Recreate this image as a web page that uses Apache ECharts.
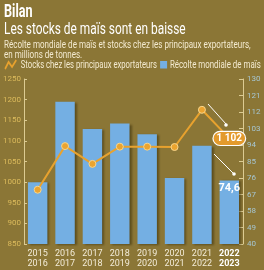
<!DOCTYPE html>
<html lang="fr">
<head>
<meta charset="UTF-8">
<title>Bilan maïs</title>
<style>
  html, body { margin: 0; padding: 0; background: #8b7636; }
</style>
</head>
<body>
<div id="echart" style="width: 264px; height: 270px;"></div>
<script src="https://cdn.jsdelivr.net/npm/echarts@6/dist/echarts.min.js"></script>
<script>
    // campagnes
    var seasons = ['2015\n2016', '2016\n2017', '2017\n2018', '2018\n2019', '2019\n2020', '2020\n2021', '2021\n2022', '2022\n2023'];
    // récolte mondiale (axe gauche)
    var harvest = [1000, 1195, 1129, 1142, 1116, 1010, 1088, 1004];
    // stocks chez les exportateurs (axe droit)
    var stocks = [69.6, 93.4, 83.7, 93.1, 93.1, 92.9, 113.2, 97.6];
    var lastHarvestText = '1 102';
    var lastStocksText = '74,6';
    var leftTicks = {min: 850, max: 1250, step: 50};
    var rightTicks = {min: 40, max: 130, step: 9};

    var font = 'Roboto, "Liberation Sans", sans-serif';
    var bg = '#8b7636';
    var cream = '#f3ead0';
    var orange = '#e8a22e';
    var blue = '#74afe3';

    var myChart = echarts.init(document.getElementById('echart'));

    var barData = harvest.map(function (v, i) {
        if (i === harvest.length - 1) {
            return {
                value: v,
                label: {
                    show: true, position: 'insideTop', distance: 2,
                    formatter: lastStocksText,
                    color: '#fff', fontWeight: 'bold', fontSize: 11, fontFamily: font
                }
            };
        }
        return v;
    });

    var lineData = stocks.map(function (v, i) {
        if (i === stocks.length - 1) {
            return {
                value: v,
                symbolSize: 0,
                label: {
                    show: true, position: 'inside',
                    formatter: lastHarvestText,
                    color: '#fff', fontWeight: 'bold', fontSize: 10, fontFamily: font,
                    backgroundColor: '#e39a2c', borderColor: '#fff', borderWidth: 1.2,
                    borderRadius: 8, padding: [2, 3, 1, 3]
                }
            };
        }
        return v;
    });

    // en-tête (texte condensé par mise à l'échelle horizontale)
    var sx = 0.7;
    var header = {
        type: 'group', x: 4, y: 3, scaleX: sx,
        children: [
            {type: 'text', x: 0, y: 0, style: {text: 'Bilan', fill: '#fff', font: 'bold 18px ' + font}},
            {type: 'text', x: 0, y: 18, style: {text: 'Les stocks de maïs sont en baisse', fill: '#fff', font: '17px ' + font}},
            {type: 'text', x: 0, y: 37, style: {
                text: 'Récolte mondiale de maïs et stocks chez les principaux exportateurs,\nen millions de tonnes.',
                fill: cream, font: '11.5px ' + font, lineHeight: 10}},
            {type: 'polyline', x: 1.5, y: 57, shape: {points: [[0, 9], [5, 2], [10, 7], [16, 0]]},
                style: {stroke: orange, lineWidth: 2.2, fill: null}},
            {type: 'text', x: 24, y: 57, style: {text: 'Stocks chez les principaux exportateurs', fill: cream, font: '11px ' + font}},
            {type: 'rect', x: 223, y: 58, shape: {width: 10, height: 7.5}, style: {fill: blue}},
            {type: 'text', x: 237, y: 57, style: {text: 'Récolte mondiale de maïs', fill: cream, font: '11.3px ' + font}}
        ]
    };

    var option = {
        backgroundColor: bg,
        animation: false,
        textStyle: {fontFamily: font},
        grid: {left: 22, right: 21, top: 79, bottom: 26},
        xAxis: {
            type: 'category',
            data: seasons,
            axisLine: {show: false},
            axisTick: {show: false},
            axisLabel: {
                interval: 0,
                color: '#f3ecd8', fontSize: 9, lineHeight: 10, margin: 5, fontFamily: font,
                formatter: function (v, i) {
                    return i === seasons.length - 1 ? '{b|' + v.replace('\n', '}\n{b|') + '}' : v;
                },
                rich: {b: {color: '#fff', fontWeight: 'bold', fontSize: 9, lineHeight: 10, fontFamily: font}}
            }
        },
        yAxis: [
            {
                type: 'value', position: 'left',
                min: leftTicks.min, max: leftTicks.max, interval: leftTicks.step,
                axisLine: {show: true, lineStyle: {color: '#dccb92', width: 1}},
                axisTick: {show: true, inside: true, length: 3, lineStyle: {color: '#dccb92'}},
                splitLine: {show: false},
                axisLabel: {color: '#dcbb5c', fontSize: 8, margin: 3, fontFamily: font,
                    formatter: function (v) { return String(v); }}
            },
            {
                type: 'value', position: 'right',
                min: rightTicks.min, max: rightTicks.max, interval: rightTicks.step,
                axisLine: {show: true, lineStyle: {color: '#dccb92', width: 1}},
                axisTick: {show: true, inside: true, length: 4, lineStyle: {color: '#dccb92'}},
                splitLine: {show: false},
                axisLabel: {color: '#a6c6d2', fontSize: 8, margin: 4, fontFamily: font}
            }
        ],
        series: [
            {
                name: 'Récolte mondiale de maïs',
                type: 'bar',
                yAxisIndex: 0,
                barWidth: '71%',
                data: barData,
                itemStyle: {
                    color: blue,
                    shadowColor: 'rgba(40,30,0,0.45)', shadowBlur: 2, shadowOffsetX: 2, shadowOffsetY: 1
                }
            },
            {
                name: 'Stocks chez les principaux exportateurs',
                type: 'line',
                yAxisIndex: 1,
                data: lineData,
                symbol: 'circle',
                symbolSize: 7,
                lineStyle: {color: orange, width: 2},
                itemStyle: {color: '#eba430', borderColor: '#f8d68c', borderWidth: 1},
                z: 5
            }
        ],
        graphic: [
            header,
            {type: 'line', shape: {x1: 208, y1: 104, x2: 226, y2: 124}, style: {stroke: '#fff', lineWidth: 1}, z: 10},
            {type: 'circle', shape: {cx: 226, cy: 125, r: 1.8}, style: {fill: '#fff'}, z: 10},
            {type: 'line', shape: {x1: 214, y1: 154, x2: 233, y2: 173}, style: {stroke: '#fff', lineWidth: 1}, z: 10},
            {type: 'circle', shape: {cx: 234, cy: 174, r: 1.8}, style: {fill: '#fff'}, z: 10}
        ]
    };

    myChart.setOption(option);
</script>
</body>
</html>
